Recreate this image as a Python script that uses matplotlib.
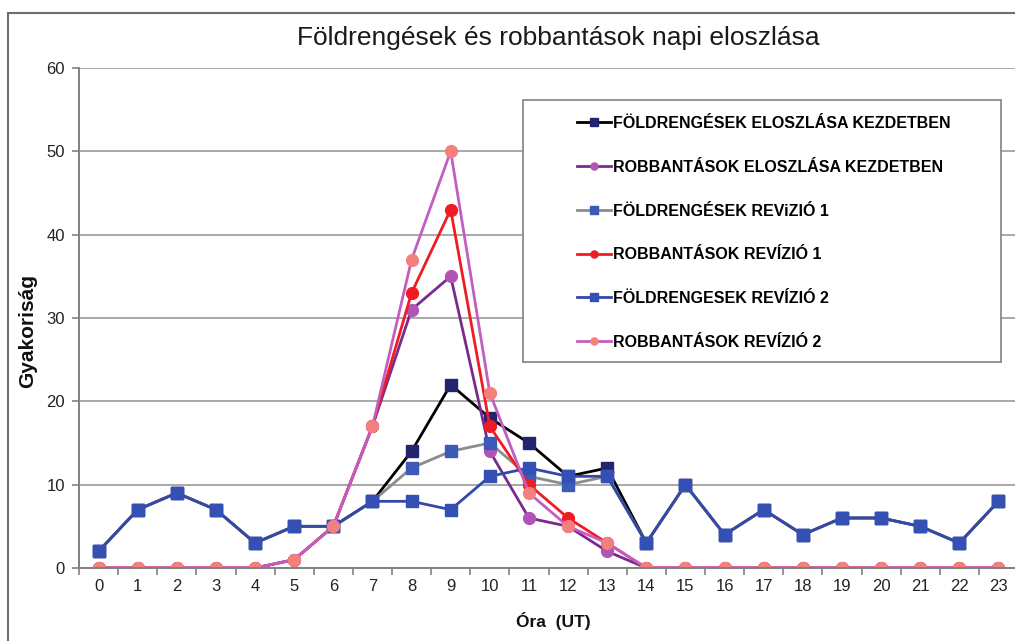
import matplotlib.pyplot as plt
from matplotlib.patches import Rectangle

# hours
hours = list(range(24))

# data
quake_initial = [2, 7, 9, 7, 3, 5, 5, 8, 14, 22, 18, 15, 11, 12, 3, 10, 4, 7, 4, 6, 6, 5, 3, 8]
blast_initial = [0, 0, 0, 0, 0, 1, 5, 17, 31, 35, 14, 6, 5, 2, 0, 0, 0, 0, 0, 0, 0, 0, 0, 0]
quake_rev1 = [2, 7, 9, 7, 3, 5, 5, 8, 12, 14, 15, 11, 10, 11, 3, 10, 4, 7, 4, 6, 6, 5, 3, 8]
blast_rev1 = [0, 0, 0, 0, 0, 1, 5, 17, 33, 43, 17, 10, 6, 3, 0, 0, 0, 0, 0, 0, 0, 0, 0, 0]
quake_rev2 = [2, 7, 9, 7, 3, 5, 5, 8, 8, 7, 11, 12, 11, 11, 3, 10, 4, 7, 4, 6, 6, 5, 3, 8]
blast_rev2 = [0, 0, 0, 0, 0, 1, 5, 17, 37, 50, 21, 9, 5, 3, 0, 0, 0, 0, 0, 0, 0, 0, 0, 0]

labels = ['FÖLDRENGÉSEK ELOSZLÁSA KEZDETBEN',
          'ROBBANTÁSOK ELOSZLÁSA KEZDETBEN',
          'FÖLDRENGÉSEK REViZIÓ 1',
          'ROBBANTÁSOK REVÍZIÓ 1',
          'FÖLDRENGESEK REVÍZIÓ 2',
          'ROBBANTÁSOK REVÍZIÓ 2']

plt.rcParams['font.family'] = ['Liberation Sans', 'DejaVu Sans']

W, H = 1015, 641
fig = plt.figure(figsize=(W / 100, H / 100), dpi=100)
ax = fig.add_axes([79 / W, 73 / H, 939 / W, 500 / H])

# outer frame (cropped on right / bottom)
fig.patches.append(Rectangle((8 / W, -0.1), 1.2, 1 - 13 / H + 0.1, transform=fig.transFigure,
                             fill=False, edgecolor='#6e6e6e', linewidth=1.5, zorder=0))

lw = 2.0
ax.plot(hours, quake_initial, color='black', lw=lw, marker='s', ms=9,
        mfc='#24246e', mec='#24246e', label=labels[0])
ax.plot(hours, blast_initial, color='#7a2a8c', lw=lw, marker='o', ms=8.5,
        mfc='#b055b5', mec='#b055b5', label=labels[1])
ax.plot(hours, quake_rev1, color='#8c8c8c', lw=lw, marker='s', ms=9,
        mfc='#3c5ab8', mec='#3c5ab8', label=labels[2])
ax.plot(hours, blast_rev1, color='#f01c24', lw=lw, marker='o', ms=8.5,
        mfc='#f01c24', mec='#f01c24', label=labels[3])
ax.plot(hours, quake_rev2, color='#3348a8', lw=lw, marker='s', ms=9,
        mfc='#3450b4', mec='#3450b4', label=labels[4])
ax.plot(hours, blast_rev2, color='#c25ec2', lw=lw, marker='o', ms=8.5,
        mfc='#f4807e', mec='#f4807e', label=labels[5])

ax.set_xlim(-0.5, 23.5)
ax.set_ylim(0, 60)
ax.set_yticks(range(0, 61, 10))
ax.set_xticks(hours)
ax.set_xticks([h + 0.5 for h in range(-1, 24)], minor=True)
ax.tick_params(axis='x', which='major', length=0, labelsize=12, pad=8, colors='#222222')
ax.tick_params(axis='x', which='minor', length=5, color='#808080', width=1.2)
ax.tick_params(axis='y', length=5, color='#808080', width=1.2, labelsize=12, pad=5,
               labelcolor='#222222')

ax.grid(axis='y', color='#a8a8a8', lw=1.4)
ax.set_axisbelow(True)
for s in ['top', 'right']:
    ax.spines[s].set_visible(False)
for s in ['left', 'bottom']:
    ax.spines[s].set_color('#808080')
    ax.spines[s].set_linewidth(1.4)

fig.text(558 / W, 1 - 38 / H, 'Földrengések és robbantások napi eloszlása',
         ha='center', va='center', fontsize=19, color='#1a1a1a',
         family=['Liberation Sans Narrow', 'Liberation Sans', 'DejaVu Sans'])
fig.text(28 / W, 1 - 331 / H, 'Gyakoriság', rotation=90, ha='center', va='center',
         fontsize=15, fontweight='bold', color='#111111')
fig.text(553 / W, 1 - 621 / H, 'Óra  (UT)', ha='center', va='center',
         fontsize=12.5, fontweight='bold', color='#111111')

# legend box drawn by hand, entries inside it without a frame
box = Rectangle((523 / W, 1 - 362 / H), (1001 - 523) / W, (362 - 100) / H,
                transform=fig.transFigure, facecolor='white',
                edgecolor='#808080', linewidth=1.2, zorder=4, clip_on=False)
ax.add_patch(box)
leg = ax.legend(loc='upper left', bbox_to_anchor=(577 / W, 1 - 116 / H),
                bbox_transform=fig.transFigure, frameon=False,
                prop={'weight': 'bold', 'size': 11.5}, handlelength=2.1,
                handletextpad=0.15, labelspacing=1.8, borderpad=0,
                borderaxespad=0, markerscale=0.6)
leg.set_zorder(5)

fig.savefig('out.png', dpi=100)
